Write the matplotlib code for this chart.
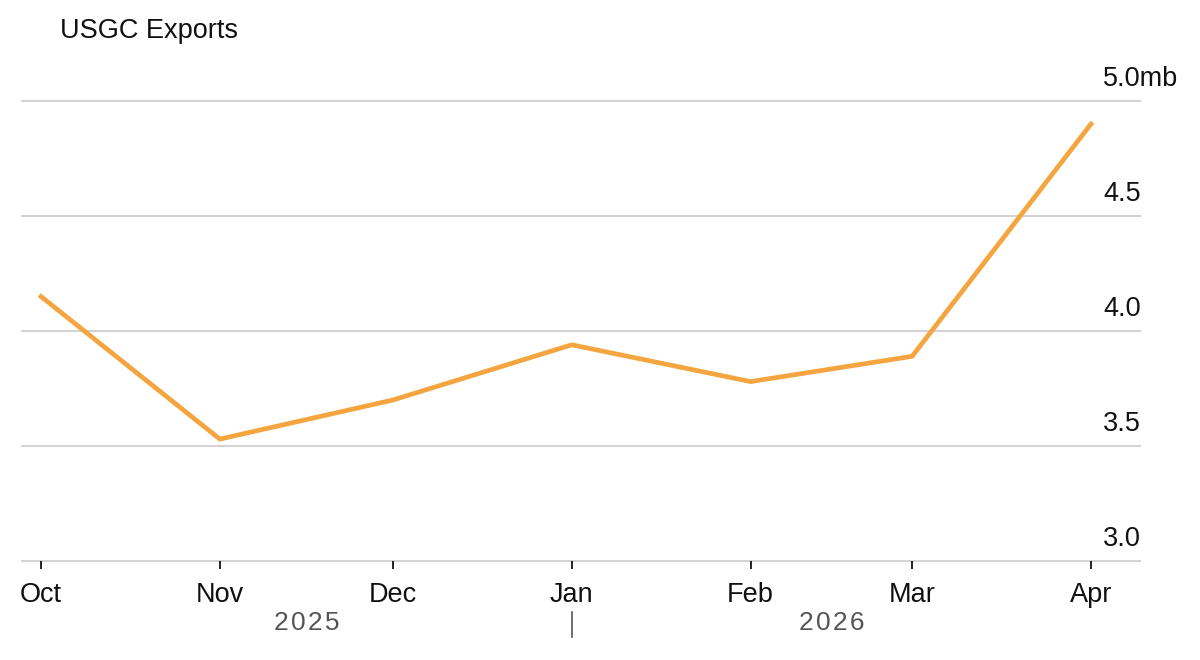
import matplotlib.pyplot as plt
import matplotlib.transforms as mtransforms
from matplotlib.transforms import Bbox
import pandas as pd

# USGC crude exports, million barrels a day
months = pd.to_datetime(['2025-10-01', '2025-11-01', '2025-12-01', '2026-01-01',
                         '2026-02-01', '2026-03-01', '2026-04-01'])
exports = [4.15, 3.53, 3.70, 3.94, 3.78, 3.89, 4.90]
month_labels = ['Oct', 'Nov', 'Dec', 'Jan', 'Feb', 'Mar', 'Apr']
y_ticks = [3.0, 3.5, 4.0, 4.5, 5.0]
y_labels = ['3.0', '3.5', '4.0', '4.5', '5.0mbd']
years = ['2025', '2026']

plt.rcParams['font.family'] = ['Liberation Sans', 'DejaVu Sans']

fig = plt.figure(figsize=(12, 6.6), dpi=100)
ax = fig.add_axes([22 / 1200, 99 / 660, 1118 / 1200, 460 / 660])

ax.plot(months, exports, color='#F4A540', lw=3.4, solid_joinstyle='miter',
        clip_on=False, zorder=3)

ax.set_ylim(3.0, 5.0)
ax.set_xlim(months[0] - pd.Timedelta(days=3.3), months[-1] + pd.Timedelta(days=8.5))

for v in y_ticks:
    ax.axhline(v, color='#d3d3d3', lw=1.5, zorder=1, clip_on=False)

for sp in ax.spines.values():
    sp.set_visible(False)

ax.set_yticks([])
ax.set_xticks(months)
ax.set_xticklabels(month_labels, fontsize=19.5, color='#111111')
ax.tick_params(axis='x', length=6, width=1.3, color='#111111', pad=9)

# y labels sit above the gridlines on the right, last one cut at the edge
clip = Bbox.from_extents(0, 0, 1178, 660)
ytrans = mtransforms.blended_transform_factory(fig.transFigure, ax.transData)
ytrans = ytrans + mtransforms.ScaledTranslation(0, 22 / 100, fig.dpi_scale_trans)
for v, lab in zip(y_ticks, y_labels):
    t = ax.text(1103 / 1200, v, lab, transform=ytrans, ha='left', va='center',
                fontsize=19.5, color='#111111')
    t.set_clip_box(clip)
    t.set_clip_on(True)

# year labels centred on their span, slightly letter-spaced
xtrans = ax.get_xaxis_transform()
spans = [(months[0], months[3]), (months[3], months[-1])]
for yr, (a, b) in zip(years, spans):
    mid = a + (b - a) / 2
    ax.text(mid, -62 / 460, '\u200a'.join(yr), transform=xtrans, ha='center', va='center',
            fontsize=19, color='#555555')
ax.plot([months[3], months[3]], [-51 / 460, -76 / 460], transform=xtrans,
        color='#555555', lw=1.2, clip_on=False)

fig.text(60 / 1200, 1 - 31 / 660, 'USGC Exports', ha='left', va='center',
         fontsize=19.5, color='#111111')

fig.savefig('out.png', dpi=100, facecolor='white')
